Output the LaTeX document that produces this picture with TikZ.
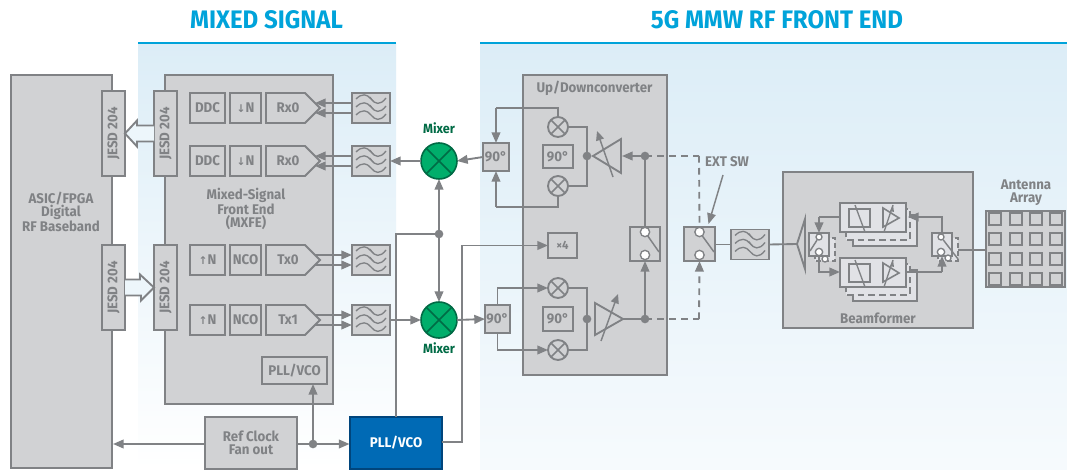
\documentclass[tikz,border=0pt]{standalone}
\usepackage{fontspec}
\setmainfont[FakeStretch=0.95]{Fira Sans}
\newfontfamily\arrfont{DejaVu Sans}
\usetikzlibrary{arrows.meta,calc,fit}
\definecolor{ln}{HTML}{808285}
\definecolor{bxf}{HTML}{D1D2D4}
\definecolor{ttl}{HTML}{00A3DA}
\definecolor{pnl}{HTML}{DCEDF7}
\definecolor{grn}{HTML}{00AE6B}
\definecolor{grd}{HTML}{006B45}
\definecolor{blu}{HTML}{006AB5}
\definecolor{bld}{HTML}{00457C}
\definecolor{crd}{HTML}{E1E2E6}
\tikzset{
  lw/.style={line width=1.4pt,draw=ln},
  box/.style={lw,fill=bxf,inner sep=0pt,outer sep=0pt},
  lbl/.style={inner sep=0pt,outer sep=0pt,text=ln,font=\fontsize{10.5pt}{10pt}\selectfont\bfseries,align=center},
  wire/.style={lw},
  arr/.style={lw,-{Triangle[length=8pt,width=6.5pt]}},
  dsh/.style={lw,dash pattern=on 5pt off 4pt},
  dasharr/.style={dsh,-{Triangle[length=8pt,width=6.5pt]}},
  jdot/.style={circle,fill=ln,inner sep=0pt,minimum size=6.5pt},
  sw/.style={circle,lw,line width=1pt,fill=white,inner sep=0pt,minimum size=7pt},
  sws/.style={circle,lw,line width=1pt,fill=white,inner sep=0pt,minimum size=4.5pt},
  smix/.style={circle,lw,fill=bxf,inner sep=0pt,outer sep=0pt,minimum size=15pt},
  bmix/.style={circle,line width=1.2pt,draw=grd,fill=grn,inner sep=0pt,outer sep=0pt,minimum size=27pt},
  ttltext/.style={inner sep=0pt,text=ttl,font=\fontsize{19pt}{20pt}\selectfont\bfseries},
  mixt/.style={inner sep=0pt,text=grd,font=\fontsize{10pt}{10pt}\selectfont\bfseries},
  wave/.pic={
    \foreach \dy in {-8,0,8}{
      \draw[ln,line width=1pt] (-15,\dy-1) .. controls (-9,\dy-7) and (-4,\dy-6) .. (0,\dy-1) .. controls (4,\dy+4) and (9,\dy+6) .. (15,\dy-2);
    }
    \draw[ln,line width=.8pt] (-1,-11) -- (2,-7) (-1,-3) -- (2,1);
  },
  card/.pic={
    \draw[lw,line width=1.1pt,fill=crd] (13,12) rectangle (77,43);
    \draw[lw,line width=1.1pt,fill=crd,dash pattern=on 5pt off 3pt] (6,6) rectangle (70,37);
    \draw[lw,fill=crd] (0,0) rectangle (66,29);
    \draw[lw,line width=1.2pt] (9,6) rectangle (30,24);
    \draw[lw,line width=1pt] (15,2) -- (25,29);
    \draw[lw,line width=1.2pt] (43,5) -- (43,24) -- (59,15) -- cycle;
    \draw[lw,line width=1pt] (44,29) -- (53,2);
    \fill[ln] (53,2) -- (50,8) -- (54,9) -- cycle;
  }
}
\newcommand{\bxn}[6][]{\node[box,#1,fit={(#3)(#4)}] (#2) {}; \node[lbl] (#2t) at (#2.center) {#5#6};}
\newcommand{\rotb}[3]{\node[box,fit={(#2)(#3)}] (#1) {}; \node[lbl,rotate=90] (#1t) at (#1.center) {JESD 204};}
\newcommand{\sigb}[3]{%
  \node[inner sep=0pt,outer sep=0pt,minimum width=40.5pt,minimum height=22.5pt] (#1) at (293,#2) {};
  \draw[lw,fill=bxf,line join=miter] (#1.south west) -- (#1.north west) -- ($(#1.north east)+(-15,0)$) -- (#1.east) -- ($(#1.south east)+(-15,0)$) -- cycle;
  \node[lbl] (#1t) at (288,#2) {#3};}
\newcommand{\filt}[3]{\node[box,fit={(#2,#3-15)(#2+38,#3+15)}] (#1) {}; \pic at (#1.center) {wave};}
\newcommand{\smx}[3]{\node[smix] (#1) at (#2,#3) {}; \draw[lw,line width=1.1pt] (#1.45)--(#1.225) (#1.135)--(#1.315);}
\newcommand{\bmx}[3]{\node[bmix] (#1) at (#2,#3) {}; \draw[grd,line width=1.2pt] (#1.45)--(#1.225) (#1.135)--(#1.315);}
\newcommand{\dnar}{{\arrfont\fontsize{8pt}{8pt}\selectfont↓}}
\newcommand{\upar}{{\arrfont\fontsize{8pt}{8pt}\selectfont↑}}
\begin{document}
\begin{tikzpicture}[x=0.75pt,y=-0.75pt]
\useasboundingbox (0,0) rectangle (1067,470);
\fill[white] (0,0) rectangle (1067,470);
% panels
\shade[top color=pnl,bottom color=white] (138,44) rectangle (396,470);
\shade[top color=pnl,bottom color=pnl!25!white] (480,44) rectangle (1067,470);
\draw[ttl,line width=1.5pt] (138,43.5) -- (396,43.5);
\draw[ttl,line width=1.5pt] (480,43.5) -- (1067,43.5);
\node[ttltext] (t1) at (266.5,20) {MIXED SIGNAL};
\node[ttltext] (t2) at (777,20) {5G MMW RF FRONT END};
% left side
\node[box,fit={(11,75)(112,468)}] (bb) {};
\node[lbl] (bbt) at (61,212) {ASIC/FPGA\\Digital\\RF Baseband};
\node[box,fit={(165,75)(333,404)}] (mxfe) {};
\node[lbl] (mxt) at (246,209) {Mixed-Signal\\Front End\\(MXFE)};
\rotb{jl1}{102,91}{125,176}
\rotb{jl2}{102,245}{125,330}
\rotb{jr1}{154,91}{177,176}
\rotb{jr2}{154,245}{177,330}
% block arrows
\draw[lw,fill=pnl!50!white,line join=miter] ($(jr1.west)+(0,-8)$) -- ++(-17,0) -- ++(0,-5) -- (jl1.east) -- ++(12,13) -- ++(0,-5) -- ($(jr1.west)+(0,8)$);
\draw[lw,fill=pnl!50!white,line join=miter] ($(jl2.east)+(0,-8)$) -- ++(15,0) -- ++(0,-5) -- (jr2.west) -- ++(-13,13) -- ++(0,-5) -- ($(jl2.east)+(0,8)$);
% rows
\bxn{ddc1}{190,93}{225,123}{DDC}{}
\bxn{dn1}{230,93}{261,123}{\dnar}{N}
\sigb{rx1}{108}{Rx0}
\bxn{ddc2}{190,146}{225,176}{DDC}{}
\bxn{dn2}{230,146}{261,176}{\dnar}{N}
\sigb{rx2}{161}{Rx0}
\bxn{un1}{190,245}{225,275}{\upar}{N}
\bxn{nco1}{230,245}{261,275}{NCO}{}
\sigb{tx0}{260}{Tx0}
\bxn{un2}{190,305}{225,335}{\upar}{N}
\bxn{nco2}{230,305}{261,335}{NCO}{}
\sigb{tx1}{320}{Tx1}
\filt{f1}{352}{108}
\filt{f2}{352}{161}
\filt{f3}{352}{260}
\filt{f4}{352}{320}
\foreach \a/\b in {f1/rx1,f2/rx2}{
  \draw[arr] ($(\a.west)+(0,-5)$) -- ($(\b.east)+(-5,-5)$);
  \draw[arr] ($(\a.west)+(0,5)$) -- ($(\b.east)+(-5,5)$);
}
\foreach \a/\b in {tx0/f3,tx1/f4}{
  \draw[arr] ($(\a.east)+(-5,-5)$) -- ($(\b.west)+(0,-5)$);
  \draw[arr] ($(\a.east)+(-5,5)$) -- ($(\b.west)+(0,5)$);
}
\bxn{pll1}{262,357}{327,384}{PLL/VCO}{}
\bxn{ref}{205,417}{297,469}{Ref Clock\\Fan out}{}
\node[lw,fill=blu,draw=bld,inner sep=0pt,outer sep=0pt,fit={(350,417)(442,469)}] (pll2) {};
\node[inner sep=0pt,text=white,font=\fontsize{10.5pt}{10pt}\selectfont\bfseries] (pll2t) at (pll2.center) {PLL/VCO};
\coordinate (refout) at (297,444);
\coordinate (refin) at (349.5,444);
\coordinate (bbe) at (113,444);
\node[jdot] (jc) at (313,444) {};
\draw[arr] (ref.west |- refout) -- (bbe);
\draw[arr] (refout) -- (refin);
\draw[arr] (jc.center) -- (jc.center |- pll1.south);
% mixers
\bmx{m1}{439}{161}
\bmx{m2}{439}{320}
\node[mixt] (m1t) at (439,128) {Mixer};
\node[mixt] (m2t) at (439,348) {Mixer};
\node[jdot] (jm) at (439,234) {};
\coordinate (pllup) at (396,234);
\draw[wire] (pll2.north) -- (pllup) -- (jm.center);
\draw[arr] (jm.center) -- (m1.south);
\draw[arr] (jm.center) -- (m2.north);
\draw[arr] (m1.west) -- (f2.east);
\draw[arr] (f4.east) -- (m2.west);
% up/down box
\node[box,fit={(523,75)(667,375)}] (ud) {};
\node[lbl] (udt) at (594.5,88) {Up/Downconverter};
\bxn{p1}{483,143}{509,171}{90°}{}
\bxn{p2}{485,305}{510,333}{90°}{}
\bxn{q1}{543,145}{573,168}{90°}{}
\bxn{q2}{543,307}{573,331}{90°}{}
\node[box,fit={(548,233)(577,258)}] (x4) {};
\node[lbl,font=\fontsize{9pt}{9pt}\selectfont\bfseries] (x4t) at (x4.center) {×4};
\draw[arr] (m2.east) -- (p2.west);
\draw[arr] (p1.west) -- (m1.east);
\smx{u1}{558}{127}
\smx{u2}{558}{186}
\smx{d1}{558}{288}
\smx{d2}{558}{350}
\coordinate (cu1) at (496,108);
\coordinate (cu2) at (496,207);
\draw[wire] (u1.north) |- (cu1);
\draw[arr] (cu1) -- (p1.north);
\draw[wire] (u2.south) |- (cu2);
\draw[arr] (cu2) -- (p1.south);
\draw[arr] (p2.north) |- (d1.west);
\draw[arr] (p2.south) |- (d2.west);
\coordinate (pllr) at (462,442);
\draw[arr] (pll2.east |- pllr) -- (pllr) |- (x4.west);
\node[jdot] (ju) at (587,156) {};
\node[jdot] (jd) at (587,319) {};
\draw[wire] (u1.east) -| (ju.center) |- (u2.east);
\draw[wire] (d1.east) -| (jd.center) |- (d2.east);
% amps
\draw[lw,line join=miter] (593,156) -- (621,139) -- (621,173) -- cycle;
\draw[lw,line join=miter] (595,303) -- (623,319) -- (595,335) -- cycle;
\draw[lw,line width=1.1pt,-{Triangle[length=7pt,width=6pt]}] (613,177) -- (597,131);
\draw[lw,line width=1.1pt,-{Triangle[length=7pt,width=6pt]}] (601,341) -- (618,294);
\coordinate (ampu) at (622,156);
\coordinate (ampd) at (623,319);
\node[jdot] (ja) at (645,156) {};
\node[jdot] (jb) at (645,319) {};
\draw[arr] (ja.center) -- (ampu);
\draw[wire] (ampd) -- (jb.center);
\draw[dsh] (ja.center) -- (699,156);
\draw[dsh] (jb.center) -- (699,319);
% switches
\node[box,fit={(630,227)(660,261)}] (s1) {};
\node[box,fit={(684,227)(715,261)}] (s2) {};
\draw[wire] (ja.center) -- (s1.north);
\draw[arr] (jb.center) -- (s1.south);
\coordinate (dtop) at (699,156);
\coordinate (dbot) at (699,319);
\draw[dsh] (dtop) -- (s2.north);
\draw[dasharr] (dbot) -- (s2.south);
\foreach \s in {s1,s2}{
  \draw[lw,line width=1.1pt] ($(\s.north)+(0,5)$) -- ($(\s.north east)+(-1,25)$);
  \node[sw] at ($(\s.north)+(0,5)$) {};
  \node[sw] at ($(\s.south)+(0,-6)$) {};
}
\node[lbl] (ext) at (727,162) {EXT SW};
\draw[arr,line width=1.1pt] (723,175) -- (708.5,224);
\filt{f5}{731}{244.5}
\draw[wire] (s2.east |- f5.west) -- (f5.west);
% beamformer
\node[box,fit={(783,172)(973,328)}] (bf) {};
\node[lbl] (bft) at (878,318) {Beamformer};
\coordinate (tri) at (797,244);
\draw[wire] (f5.east) -- (tri);
\draw[lw,line join=miter] (797,244) -- (805,219) -- (805,269) -- cycle;
\pic at (840,203) {card};
\pic at (840,258) {card};
\coordinate (c1) at (840,217);
\coordinate (c2) at (840,272);
\coordinate (c3) at (908,217);
\coordinate (c4) at (906,272);
% left switch
\draw[lw,line width=1.1pt,fill=crd,dash pattern=on 4pt off 2pt] (815,238) rectangle (835,261);
\node[box,fill=crd,fit={(809,233)(829,256)}] (s3) {};
\node[sws] (s3a) at (819,237) {};
\node[sw,minimum size=5.5pt] (s3b) at (819,252) {};
\node[sws] (s3c) at (825,259) {};
\draw[lw,line width=1.1pt] (s3a) -- (810,251);
\coordinate (s3up) at (819,217);
\draw[wire] (c1) -- (s3up);
\draw[arr] (s3up) -- (s3.north);
\draw[arr] (s3.south) |- (c2);
% right switch
\draw[lw,line width=1.1pt,fill=crd,dash pattern=on 4pt off 2pt] (938,238) rectangle (958,261);
\node[box,fill=crd,fit={(932,233)(952,256)}] (s4) {};
\node[sws] (s4a) at (941,237) {};
\node[sw,minimum size=5.5pt] (s4b) at (941,252) {};
\node[sws] (s4c) at (948,258) {};
\draw[lw,line width=1.1pt] (s4a) -- (958,259);
\draw[arr] (s4.north) |- (c3);
\coordinate (s4dn) at (942,272);
\draw[wire] (c4) -- (s4dn);
\draw[arr] (s4dn) -- (s4.south);
% antenna
\node[box,fit={(986,211)(1065,287)}] (ant) {};
\node[lbl] (antt) at (1026,193) {Antenna\\Array};
\coordinate (s4out) at (958,250);
\draw[wire] (s4out) -- (ant.west |- s4out);
\foreach \cx in {995,1016,1036,1056}{
  \foreach \cy in {219,239,259,279}{
    \draw[lw,line width=1.1pt,fill=bxf] (\cx-6,\cy-6) rectangle (\cx+6,\cy+6);
  }
}
\end{tikzpicture}
\end{document}
